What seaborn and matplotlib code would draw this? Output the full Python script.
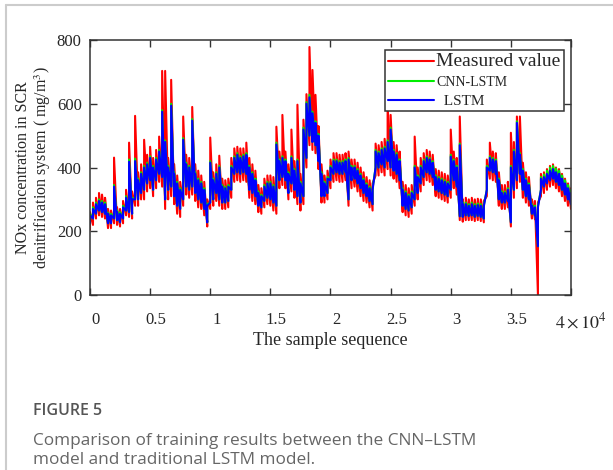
import matplotlib
matplotlib.use("Agg")
import matplotlib.pyplot as plt
import pandas as pd
import seaborn as sns
from matplotlib.lines import Line2D
from matplotlib.transforms import ScaledTranslation

# sample index along the sequence, one reading every 250 samples
sample = list(range(0, 40001, 250))

# measured value: lower / upper edge of the red trace at each reading
measured_lo = [205, 220, 240, 250, 245, 240, 210, 210, 225, 220,
               215, 225, 250, 245, 240, 280, 280, 300, 300, 325,
               335, 310, 335, 355, 340, 270, 300, 310, 285, 255,
               245, 280, 315, 305, 315, 295, 275, 270, 250, 215,
               270, 280, 295, 280, 270, 270, 275, 305, 355, 360,
               355, 360, 355, 305, 295, 285, 260, 255, 275, 285,
               280, 265, 255, 335, 345, 335, 300, 325, 305, 285,
               265, 285, 400, 470, 455, 445, 395, 290, 290, 300,
               335, 355, 360, 355, 355, 360, 280, 335, 340, 325,
               310, 295, 290, 275, 265, 375, 375, 385, 375, 395,
               375, 365, 355, 335, 260, 250, 245, 255, 280, 300,
               325, 345, 360, 355, 345, 310, 305, 300, 295, 290,
               305, 335, 315, 235, 230, 235, 235, 235, 232, 235,
               232, 228, 310, 365, 360, 355, 280, 270, 270, 275,
               215, 305, 335, 355, 305, 290, 280, 240, 238, 0,
               310, 320, 330, 340, 345, 335, 325, 310, 295, 280, 270]
measured_hi = [260, 290, 305, 320, 315, 305, 270, 265, 431, 275,
               270, 295, 330, 478, 325, 562, 385, 410, 487, 440,
               465, 430, 455, 497, 703, 703, 430, 675, 410, 375,
               355, 560, 440, 430, 590, 410, 390, 375, 355, 300,
               494, 385, 410, 437, 365, 360, 365, 430, 460, 465,
               460, 460, 478, 430, 410, 390, 345, 335, 365, 375,
               375, 370, 528, 450, 565, 450, 410, 519, 420, 597,
               380, 550, 630, 778, 706, 628, 530, 410, 375, 390,
               425, 445, 445, 440, 440, 445, 450, 425, 425, 415,
               400, 385, 370, 360, 350, 475, 470, 480, 490, 597,
               565, 480, 470, 450, 355, 345, 335, 345, 497, 400,
               430, 445, 455, 450, 440, 395, 390, 385, 380, 375,
               519, 450, 430, 560, 300, 305, 300, 305, 300, 302,
               300, 295, 425, 478, 450, 445, 385, 345, 345, 355,
               509, 480, 560, 560, 415, 385, 370, 300, 295, 290,
               380, 385, 395, 405, 410, 400, 395, 380, 365, 350, 335]

# CNN-LSTM prediction, upper edge (mostly hidden under LSTM, peeks out on top)
cnn_lstm = [255, 275, 290, 300, 295, 290, 258, 255, 345, 265,
            260, 280, 310, 425, 305, 428, 365, 385, 405, 415,
            435, 405, 430, 455, 580, 485, 405, 600, 385, 355,
            335, 492, 415, 405, 552, 385, 365, 355, 335, 285,
            420, 365, 385, 405, 345, 340, 345, 405, 435, 445,
            435, 440, 445, 405, 385, 365, 325, 315, 345, 355,
            355, 345, 478, 425, 435, 425, 385, 435, 395, 425,
            355, 525, 605, 628, 575, 545, 505, 385, 355, 370,
            405, 425, 425, 420, 420, 425, 430, 405, 405, 395,
            380, 365, 350, 340, 335, 455, 450, 460, 465, 485,
            525, 455, 445, 425, 335, 325, 315, 325, 405, 375,
            405, 425, 435, 430, 420, 375, 370, 365, 360, 355,
            440, 425, 405, 475, 290, 290, 285, 290, 285, 287,
            285, 283, 405, 435, 430, 425, 365, 325, 325, 335,
            405, 455, 545, 445, 395, 365, 350, 285, 280, 280,
            370, 378, 390, 400, 405, 397, 390, 375, 360, 345, 330]

# LSTM prediction: lower / upper edge of the blue trace
lstm_lo = [225, 240, 255, 265, 260, 255, 225, 225, 240, 235,
           228, 240, 265, 260, 255, 300, 300, 320, 330, 350,
           360, 330, 360, 380, 370, 300, 330, 340, 310, 280,
           270, 300, 340, 330, 340, 320, 300, 290, 270, 228,
           290, 300, 320, 300, 290, 290, 295, 330, 380, 385,
           380, 385, 380, 330, 320, 310, 280, 275, 295, 305,
           300, 290, 280, 360, 370, 360, 320, 350, 330, 310,
           290, 310, 430, 500, 480, 470, 420, 310, 310, 320,
           360, 380, 385, 380, 380, 385, 300, 360, 365, 350,
           335, 320, 310, 295, 285, 400, 400, 410, 400, 420,
           400, 390, 380, 360, 280, 270, 265, 275, 300, 320,
           350, 370, 385, 380, 370, 330, 325, 320, 315, 310,
           330, 360, 340, 247, 245, 250, 248, 250, 245, 248,
           245, 240, 330, 390, 385, 380, 300, 290, 290, 295,
           228, 330, 360, 380, 330, 310, 300, 255, 250, 153,
           330, 340, 350, 360, 365, 355, 345, 330, 315, 300, 285]
lstm_hi = [250, 270, 285, 295, 290, 285, 255, 250, 340, 260,
           255, 275, 305, 418, 300, 420, 360, 380, 400, 410,
           430, 400, 425, 450, 575, 480, 400, 594, 380, 350,
           330, 487, 410, 400, 547, 380, 360, 350, 330, 280,
           415, 360, 380, 400, 340, 335, 340, 400, 430, 440,
           430, 435, 440, 400, 380, 360, 320, 310, 340, 350,
           350, 340, 472, 420, 430, 420, 380, 430, 390, 420,
           350, 519, 600, 620, 570, 540, 500, 380, 350, 365,
           400, 420, 420, 415, 415, 420, 425, 400, 400, 390,
           375, 360, 345, 335, 330, 450, 445, 455, 460, 480,
           519, 450, 440, 420, 330, 320, 310, 320, 400, 370,
           400, 420, 430, 425, 415, 370, 365, 360, 355, 350,
           434, 420, 400, 470, 285, 285, 280, 285, 280, 282,
           280, 278, 400, 430, 425, 420, 360, 320, 320, 330,
           400, 450, 540, 440, 390, 360, 345, 280, 275, 275,
           365, 370, 380, 390, 395, 385, 380, 365, 350, 335, 320]

xticks = [0, 5000, 10000, 15000, 20000, 25000, 30000, 35000, 40000]
xtick_labels = ["0", "0.5", "1", "1.5", "2", "2.5", "3", "3.5", ""]
yticks = [0, 200, 400, 600, 800]


def trace(lo, hi):
    # dense signal: a stroke from the low to the high reading at each sample
    xs, ys = [], []
    for x, a, b in zip(sample, lo, hi):
        xs += [x, x]
        ys += [a, b]
    return pd.DataFrame({"sample": xs, "value": ys})


red_df = trace(measured_lo, measured_hi)
# the lower edge of the green trace sits under the blue one
green_df = trace(lstm_lo, cnn_lstm)
blue_df = trace(lstm_lo, lstm_hi)

sns.set_style("ticks")
plt.rcParams["font.family"] = ["Liberation Serif", "DejaVu Serif"]
plt.rcParams["mathtext.fontset"] = "stix"

fig = plt.figure(figsize=(6.13, 4.70), dpi=100)
ax = fig.add_axes([0.1468, 0.3723, 0.7847, 0.5426])

sns.lineplot(data=red_df, x="sample", y="value", color="#ff0000", lw=1.5,
             sort=False, estimator=None, ax=ax, label="Measured value")
sns.lineplot(data=green_df, x="sample", y="value", color="#00ee00", lw=1.5,
             sort=False, estimator=None, ax=ax, label="CNN-LSTM")
sns.lineplot(data=blue_df, x="sample", y="value", color="#0000ff", lw=1.5,
             sort=False, estimator=None, ax=ax, label="  LSTM")

ax.set_xlim(0, 40000)
ax.set_ylim(0, 800)
ax.set_xticks(xticks)
ax.set_xticklabels(xtick_labels)
ax.set_yticks(yticks)
ax.set_xlabel("The sample sequence", fontsize=13, labelpad=3)
ax.set_ylabel("NOx concentration in SCR\ndenitrification system ( mg/m$^3$)",
              fontsize=11.5, labelpad=3, linespacing=1.1)
ax.tick_params(direction="in", length=5, width=1, labelsize=12,
               top=True, right=True, color="#333333")
ax.tick_params(axis="x", pad=12)
ax.tick_params(axis="y", pad=6)
for s in ax.spines.values():
    s.set_color("#333333")
    s.set_linewidth(1.1)

shift = ScaledTranslation(0.06, 0, fig.dpi_scale_trans)
for lab in ax.get_xticklabels():
    lab.set_transform(lab.get_transform() + shift)

ax.text(0.966, -0.066, r"$4\times10^{4}$", transform=ax.transAxes,
        fontsize=13, ha="left", va="top")

leg = ax.legend(loc="upper right", bbox_to_anchor=(0.985, 0.961),
                borderaxespad=0, frameon=True, fancybox=False,
                edgecolor="#333333", framealpha=1, fontsize=11,
                handlelength=3.0, handletextpad=0.15, borderpad=0.2,
                labelspacing=0.35)
leg.get_frame().set_linewidth(1.1)
for t, fs in zip(leg.get_texts(), [14, 10, 11]):
    t.set_fontsize(fs)

# caption below the chart
fig.text(0.054, 0.118, "FIGURE 5", family="Open Sans", fontsize=11.5,
         fontweight="semibold", color="#555555", va="baseline")
fig.text(0.054, 0.053, "Comparison of training results between the CNN\u2013LSTM",
         family="Open Sans", fontsize=12.4, color="#666666", va="baseline")
fig.text(0.054, 0.012, "model and traditional LSTM model.",
         family="Open Sans", fontsize=12.4, color="#666666", va="baseline")

# page frame lines
fig.add_artist(Line2D([0.0098, 0.0098], [0, 0.989], transform=fig.transFigure,
                      color="#cccccc", lw=1.5))
fig.add_artist(Line2D([0.0098, 1], [0.989, 0.989], transform=fig.transFigure,
                      color="#cccccc", lw=1.5))

fig.savefig("out.png", dpi=100)
